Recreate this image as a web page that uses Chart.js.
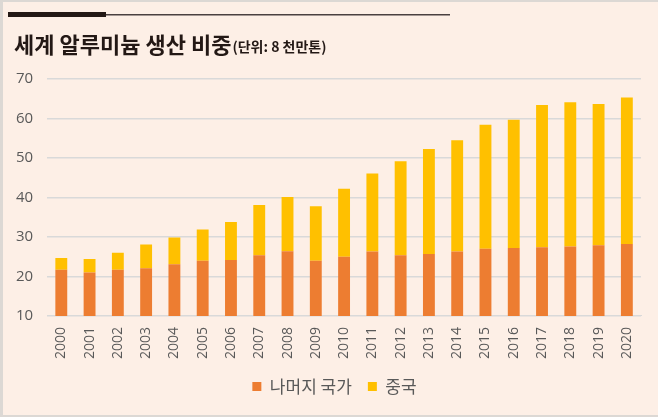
<!DOCTYPE html>
<html>
<head>
<meta charset="utf-8">
<script src="https://cdn.jsdelivr.net/npm/chart.js@4"></script>
<style>
  html, body { margin: 0; padding: 0; background: #fdefe6; }
  #wrap { width: 658px; height: 417px; }
</style>
</head>
<body>
<div id="wrap"><canvas id="chAlu" width="658" height="417"></canvas></div>
<script>
// chart data
var years = ['2000','2001','2002','2003','2004','2005','2006','2007','2008','2009','2010',
             '2011','2012','2013','2014','2015','2016','2017','2018','2019','2020'];
var others = [21.7,21.0,21.7,22.1,23.1,24.0,24.2,25.4,26.4,24.0,25.0,
              26.3,25.4,25.7,26.3,27.0,27.2,27.4,27.6,27.9,28.2];
var china = [3.0,3.4,4.3,6.0,6.8,7.9,9.6,12.7,13.7,13.8,17.2,
             19.8,23.8,26.6,28.2,31.4,32.5,36.0,36.5,35.8,37.1];
var yTicks = [10,20,30,40,50,60,70];

var colors = ['#ed7d31','#ffc000'];
var gray = '#595959';

// background, frame and heading
var framePlugin = {
  id: 'frame',
  afterLayout: function(chart) {
    // nudge legend a bit to the right like the original
    if (chart.legend) { chart.legend.left += 13; chart.legend.right += 13; }
  },
  beforeDraw: function(chart) {
    var c = chart.ctx;
    c.save();
    c.fillStyle = '#fdefe6';
    c.fillRect(0, 0, chart.width, chart.height);
    c.fillStyle = '#dcd8d4';
    c.fillRect(0, 0, chart.width, 2);
    c.fillRect(0, 0, 3, chart.height);
    c.fillRect(0, chart.height - 2, chart.width, 2);
    // heading rule
    c.fillStyle = '#231815';
    c.fillRect(8, 12, 98, 5);
    c.fillStyle = '#4a4040';
    c.fillRect(106, 14, 344, 1.5);
    // title
    c.fillStyle = '#231815';
    c.textBaseline = 'alphabetic';
    c.font = 'bold 22px "Noto Sans CJK KR"';
    c.fillText('세계 알루미늄 생산 비중', 14, 53);
    var w = c.measureText('세계 알루미늄 생산 비중').width;
    c.font = 'bold 14px "Noto Sans CJK KR"';
    c.fillText('(단위: 8 천만톤)', 14 + w + 1, 52);
    c.restore();
  }
};

new Chart(document.getElementById('chAlu'), {
  type: 'bar',
  data: {
    labels: years,
    datasets: [
      { label: '나머지 국가', data: others, backgroundColor: colors[0], borderWidth: 0 },
      { label: '중국', data: china, backgroundColor: colors[1], borderWidth: 0 }
    ]
  },
  options: {
    responsive: false,
    animation: false,
    layout: { padding: { left: 2, right: 17, top: 79, bottom: 12 } },
    datasets: { bar: { barPercentage: 0.42, categoryPercentage: 1 } },
    plugins: {
      legend: {
        position: 'bottom',
        labels: {
          boxWidth: 9, boxHeight: 9, padding: 16,
          color: gray,
          font: { size: 17, family: '"Noto Sans CJK KR"' }
        }
      },
      tooltip: { enabled: false }
    },
    scales: {
      x: {
        stacked: true,
        grid: { display: false },
        border: { display: true, color: '#d9d9d9' },
        ticks: {
          color: gray, minRotation: 90, maxRotation: 90, padding: 3,
          font: { size: 14, family: '"Open Sans"' }
        }
      },
      y: {
        stacked: true,
        min: 10, max: 70,
        afterBuildTicks: function(axis) {
          axis.ticks = yTicks.map(function(v) { return { value: v }; });
        },
        grid: { color: '#d9d9d9', drawTicks: false, lineWidth: 1.5 },
        border: { display: false },
        ticks: {
          color: gray, padding: 14,
          font: { size: 15, family: '"Open Sans"' }
        }
      }
    }
  },
  plugins: [framePlugin]
});
</script>
</body>
</html>
